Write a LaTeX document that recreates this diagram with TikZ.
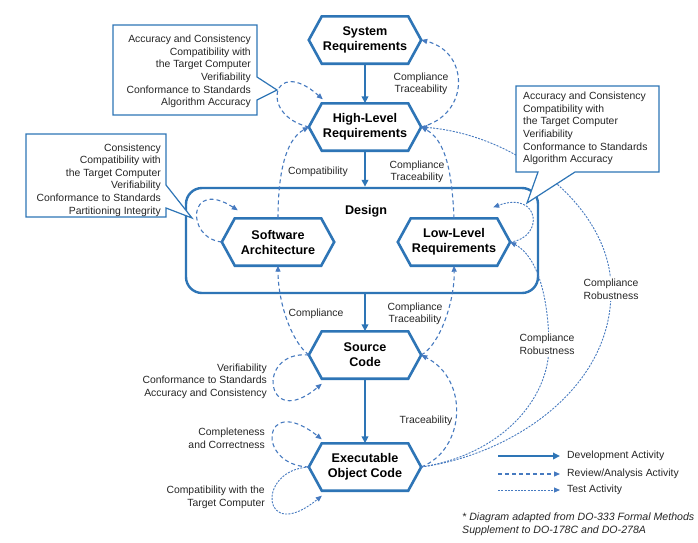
\documentclass[tikz,border=0pt]{standalone}
\usepackage{fontspec}
\setmainfont{Liberation Sans}
\usetikzlibrary{arrows.meta,calc}
\definecolor{hexblue}{RGB}{46,117,182}
\definecolor{dashblue}{RGB}{70,122,192}
\definecolor{txt}{RGB}{38,38,38}
\tikzset{
 hexlabel/.style={minimum width=112pt,minimum height=47pt,inner sep=0pt,align=center,font=\fontsize{12.6}{15}\selectfont\bfseries,text=black},
 hexline/.style={draw=hexblue,line width=2.6pt,line join=miter},
 devarrow/.style={draw=hexblue,line width=2pt,-{Triangle[length=7pt,width=6.5pt]}},
 revarrow/.style={draw=dashblue,line width=1.1pt,dash pattern=on 4pt off 3pt,-{Triangle[length=6pt,width=5pt]}},
 testarrow/.style={draw=dashblue,line width=0.9pt,dash pattern=on 2pt off 1.3pt,-{Triangle[length=6pt,width=5pt]}},
 lbl/.style={font=\fontsize{10.4}{12.6}\selectfont,text=txt,inner sep=0pt},
 callout/.style={draw=hexblue,line width=1.2pt,fill=white,line join=miter},
}
\newcommand{\hexnode}[4]{%
 \node[hexlabel] (#1) at (#2,#3) {#4};
 \coordinate (#1-tl) at ([xshift=13pt]#1.north west);
 \coordinate (#1-tr) at ([xshift=-13pt]#1.north east);
 \coordinate (#1-bl) at ([xshift=13pt]#1.south west);
 \coordinate (#1-br) at ([xshift=-13pt]#1.south east);
 \draw[hexline] (#1.west) -- (#1-tl) -- (#1-tr) -- (#1.east) -- (#1-br) -- (#1-bl) -- cycle;
}
\begin{document}
\begin{tikzpicture}[x=1pt,y=-1pt]
\useasboundingbox[fill=white] (0,0) rectangle (698,542);
% design box
\node[draw=hexblue,line width=2.4pt,rounded corners=16pt,minimum width=352pt,minimum height=105pt,inner sep=0pt] (design) at (362,240.5) {};
\node[font=\fontsize{12.6}{15}\selectfont\bfseries] (designlbl) at (366,211) {Design};
% hexagons
\hexnode{sys}{365}{40}{System\\Requirements}
\hexnode{hlr}{365}{127}{High-Level\\Requirements}
\hexnode{sa}{278}{242}{Software\\Architecture}
\hexnode{llr}{454}{242}{Low-Level\\Requirements}
\hexnode{src}{365}{355}{Source\\Code}
\hexnode{eoc}{365}{467}{Executable\\Object Code}
% development arrows
\draw[devarrow] (sys.south) -- (hlr.north);
\draw[devarrow] (hlr.south) -- (hlr.south |- design.north);
\draw[devarrow] (src.north |- design.south) -- (src.north);
\draw[devarrow] (src.south) -- (eoc.north);
% review / test connectors
\draw[revarrow] (hlr.east) .. controls (470,115) and (470,52) .. (sys.east);
\node[lbl,align=center] (l-sys) at (421,84) {Compliance\\Traceability};
\draw[revarrow] (hlr.west) .. controls (258,115) and (273,55) .. ($(hlr-tl)+(1,-4)$);
\draw[revarrow] (sa.north) .. controls (278,175) and (285,140) .. (hlr.west);
\node[lbl] (l-compat) at (318,172) {Compatibility};
\draw[revarrow] (llr.north) .. controls (452,170) and (445,140) .. (hlr.east);
\node[lbl,align=center] (l-llr) at (417,172) {Compliance\\Traceability};
\draw[revarrow] (sa.west) .. controls (185,238) and (188,178) .. ($(sa-tl)+(3,-8)$);
\draw[testarrow] (llr.east) .. controls (545,238) and (540,190) .. ($(llr-tr)+(-4,-11)$);
\draw[revarrow] (src.west) .. controls (290,340) and (278,300) .. (sa.south);
\node[lbl] (l-sacomp) at (316,314) {Compliance};
\draw[revarrow] (src.east) .. controls (440,345) and (455,300) .. (llr.south);
\node[lbl,align=center] (l-srcllr) at (415,314) {Compliance\\Traceability};
\draw[revarrow] (src.west) .. controls (255,350) and (265,432) .. ($(src-bl)+(0,5)$);
\node[lbl,align=right,anchor=east] (l-src) at (267,381) {Verifiability\\Conformance to Standards\\Accuracy and Consistency};
\draw[revarrow] (eoc.east) .. controls (465,450) and (470,380) .. (src.east);
\node[lbl] (l-trace) at (426,421) {Traceability};
\draw[revarrow] (eoc.west) .. controls (255,465) and (262,392) .. ($(eoc-tl)+(0,-4)$);
\node[lbl,align=right,anchor=east] (l-compl) at (265,438) {Completeness\\and Correctness};
\draw[testarrow] (eoc.west) .. controls (255,470) and (262,545) .. ($(eoc-bl)+(0,5)$);
\node[lbl,align=right,anchor=east] (l-target) at (265,497) {Compatibility with the\\Target Computer};
\draw[testarrow] (eoc.east) .. controls (500,455) and (550,400) .. (549,344) .. controls (548,290) and (535,255) .. (llr.east);
\node[lbl,align=center,fill=white,inner sep=1.5pt] (l-rob1) at (547,344) {Compliance\\Robustness};
\draw[testarrow] (eoc.east) .. controls (510,455) and (612,390) .. (611,290) .. controls (612,210) and (520,135) .. (hlr.east);
\node[lbl,align=center,fill=white,inner sep=1.5pt] (l-rob2) at (611,289) {Compliance\\Robustness};
% callouts
\draw[callout] (113,25) -- (257,25) -- (257,77) -- (277,90) -- (257,100) -- (257,115) -- (113,115) -- cycle;
\node[lbl,align=right,anchor=east] (c1) at (251,71.5) {Accuracy and Consistency\\Compatibility with\\the Target Computer\\Verifiability\\Conformance to Standards\\Algorithm Accuracy};
\draw[callout] (26,134) -- (166,134) -- (166,185) -- (192,218) -- (166,208) -- (166,217) -- (26,217) -- cycle;
\node[lbl,align=right,anchor=east] (c2) at (161,180) {Consistency\\Compatibility with\\the Target Computer\\Verifiability\\Conformance to Standards\\Partitioning Integrity};
\draw[callout] (516,86) -- (659,86) -- (659,172) -- (575,172) -- (527,203) -- (538,172) -- (516,172) -- cycle;
\node[lbl,align=left,anchor=west] (c3) at (523,128.5) {Accuracy and Consistency\\Compatibility with\\the Target Computer\\Verifiability\\Conformance to Standards\\Algorithm Accuracy};
% legend
\coordinate (lg1a) at (498,456); \coordinate (lg1b) at (560,456);
\coordinate (lg2a) at (498,474); \coordinate (lg2b) at (560,474);
\coordinate (lg3a) at (498,490); \coordinate (lg3b) at (560,490);
\draw[devarrow] (lg1a) -- (lg1b);
\draw[revarrow] (lg2a) -- (lg2b);
\draw[testarrow] (lg3a) -- (lg3b);
\node[lbl,anchor=west] (lgt1) at (567,456) {Development Activity};
\node[lbl,anchor=west] (lgt2) at (567,474) {Review/Analysis Activity};
\node[lbl,anchor=west] (lgt3) at (567,490) {Test Activity};
\node[lbl,anchor=west,align=left,font=\fontsize{10.6}{13.5}\selectfont\itshape] (note) at (462,524) {* Diagram adapted from DO-333 Formal Methods\\Supplement to DO-178C and DO-278A};
\end{tikzpicture}
\end{document}
